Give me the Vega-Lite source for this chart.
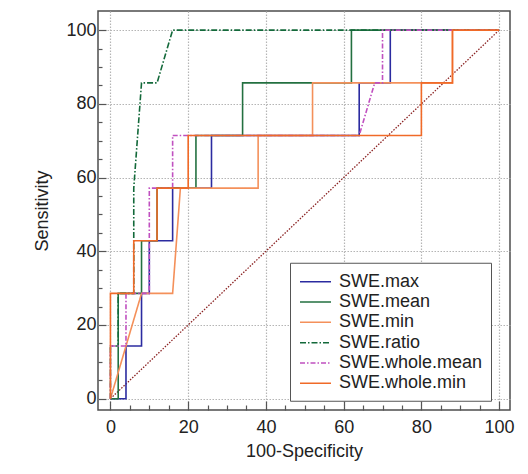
{
  "$schema": "https://vega.github.io/schema/vega-lite/v6.json",
  "width": 412,
  "height": 399,
  "autosize": {"type": "none"},
  "padding": {"left": 98, "top": 11, "right": 18, "bottom": 64},
  "background": "white",
  "datasets": {
    "roc": [
      {"s": "SWE.max", "i": 1, "x": 0, "y": 0},
      {"s": "SWE.max", "i": 2, "x": 4, "y": 0},
      {"s": "SWE.max", "i": 3, "x": 4, "y": 14.29},
      {"s": "SWE.max", "i": 4, "x": 8, "y": 14.29},
      {"s": "SWE.max", "i": 5, "x": 8, "y": 28.57},
      {"s": "SWE.max", "i": 6, "x": 10, "y": 28.57},
      {"s": "SWE.max", "i": 7, "x": 10, "y": 42.86},
      {"s": "SWE.max", "i": 8, "x": 16, "y": 42.86},
      {"s": "SWE.max", "i": 9, "x": 16, "y": 57.14},
      {"s": "SWE.max", "i": 10, "x": 26, "y": 57.14},
      {"s": "SWE.max", "i": 11, "x": 26, "y": 71.43},
      {"s": "SWE.max", "i": 12, "x": 64, "y": 71.43},
      {"s": "SWE.max", "i": 13, "x": 64, "y": 85.71},
      {"s": "SWE.max", "i": 14, "x": 72, "y": 85.71},
      {"s": "SWE.max", "i": 15, "x": 72, "y": 100},
      {"s": "SWE.max", "i": 16, "x": 100, "y": 100},

      {"s": "SWE.mean", "i": 1, "x": 0, "y": 0},
      {"s": "SWE.mean", "i": 2, "x": 2, "y": 0},
      {"s": "SWE.mean", "i": 3, "x": 2, "y": 28.57},
      {"s": "SWE.mean", "i": 4, "x": 8, "y": 28.57},
      {"s": "SWE.mean", "i": 5, "x": 8, "y": 42.86},
      {"s": "SWE.mean", "i": 6, "x": 12, "y": 42.86},
      {"s": "SWE.mean", "i": 7, "x": 12, "y": 57.14},
      {"s": "SWE.mean", "i": 8, "x": 22, "y": 57.14},
      {"s": "SWE.mean", "i": 9, "x": 22, "y": 71.43},
      {"s": "SWE.mean", "i": 10, "x": 34, "y": 71.43},
      {"s": "SWE.mean", "i": 11, "x": 34, "y": 85.71},
      {"s": "SWE.mean", "i": 12, "x": 62, "y": 85.71},
      {"s": "SWE.mean", "i": 13, "x": 62, "y": 100},
      {"s": "SWE.mean", "i": 14, "x": 100, "y": 100},

      {"s": "SWE.min", "i": 1, "x": 0, "y": 0},
      {"s": "SWE.min", "i": 2, "x": 8, "y": 28.57},
      {"s": "SWE.min", "i": 3, "x": 16, "y": 28.57},
      {"s": "SWE.min", "i": 4, "x": 18, "y": 57.14},
      {"s": "SWE.min", "i": 5, "x": 38, "y": 57.14},
      {"s": "SWE.min", "i": 6, "x": 38, "y": 71.43},
      {"s": "SWE.min", "i": 7, "x": 52, "y": 71.43},
      {"s": "SWE.min", "i": 8, "x": 52, "y": 85.71},
      {"s": "SWE.min", "i": 9, "x": 88, "y": 85.71},
      {"s": "SWE.min", "i": 10, "x": 88, "y": 100},
      {"s": "SWE.min", "i": 11, "x": 100, "y": 100},

      {"s": "SWE.ratio", "i": 1, "x": 0, "y": 0},
      {"s": "SWE.ratio", "i": 2, "x": 0, "y": 14.29},
      {"s": "SWE.ratio", "i": 3, "x": 2, "y": 14.29},
      {"s": "SWE.ratio", "i": 4, "x": 2, "y": 28.57},
      {"s": "SWE.ratio", "i": 5, "x": 6, "y": 28.57},
      {"s": "SWE.ratio", "i": 6, "x": 6, "y": 57.14},
      {"s": "SWE.ratio", "i": 7, "x": 8, "y": 85.71},
      {"s": "SWE.ratio", "i": 8, "x": 12, "y": 85.71},
      {"s": "SWE.ratio", "i": 9, "x": 16, "y": 100},
      {"s": "SWE.ratio", "i": 10, "x": 100, "y": 100},

      {"s": "SWE.whole.mean", "i": 1, "x": 0, "y": 0},
      {"s": "SWE.whole.mean", "i": 2, "x": 0, "y": 14.29},
      {"s": "SWE.whole.mean", "i": 3, "x": 4, "y": 14.29},
      {"s": "SWE.whole.mean", "i": 4, "x": 4, "y": 28.57},
      {"s": "SWE.whole.mean", "i": 5, "x": 10, "y": 28.57},
      {"s": "SWE.whole.mean", "i": 6, "x": 10, "y": 57.14},
      {"s": "SWE.whole.mean", "i": 7, "x": 16, "y": 57.14},
      {"s": "SWE.whole.mean", "i": 8, "x": 16, "y": 71.43},
      {"s": "SWE.whole.mean", "i": 9, "x": 64, "y": 71.43},
      {"s": "SWE.whole.mean", "i": 10, "x": 68, "y": 85.71},
      {"s": "SWE.whole.mean", "i": 11, "x": 70, "y": 85.71},
      {"s": "SWE.whole.mean", "i": 12, "x": 70, "y": 100},
      {"s": "SWE.whole.mean", "i": 13, "x": 100, "y": 100},

      {"s": "SWE.whole.min", "i": 1, "x": 0, "y": 0},
      {"s": "SWE.whole.min", "i": 2, "x": 0, "y": 28.57},
      {"s": "SWE.whole.min", "i": 3, "x": 6, "y": 28.57},
      {"s": "SWE.whole.min", "i": 4, "x": 6, "y": 42.86},
      {"s": "SWE.whole.min", "i": 5, "x": 12, "y": 42.86},
      {"s": "SWE.whole.min", "i": 6, "x": 12, "y": 57.14},
      {"s": "SWE.whole.min", "i": 7, "x": 20, "y": 57.14},
      {"s": "SWE.whole.min", "i": 8, "x": 20, "y": 71.43},
      {"s": "SWE.whole.min", "i": 9, "x": 80, "y": 71.43},
      {"s": "SWE.whole.min", "i": 10, "x": 80, "y": 85.71},
      {"s": "SWE.whole.min", "i": 11, "x": 88, "y": 85.71},
      {"s": "SWE.whole.min", "i": 12, "x": 88, "y": 100},
      {"s": "SWE.whole.min", "i": 13, "x": 100, "y": 100}
    ],
    "diag": [
      {"x": 0, "y": 0},
      {"x": 100, "y": 100}
    ]
  },
  "encoding": {
    "x": {
      "field": "x",
      "type": "quantitative",
      "scale": {"domain": [-3.2, 102.8], "nice": false, "zero": false},
      "axis": {
        "title": "100-Specificity",
        "values": [0, 5, 10, 15, 20, 25, 30, 35, 40, 45, 50, 55, 60, 65, 70, 75, 80, 85, 90, 95, 100],
        "labelExpr": "datum.value % 20 === 0 ? datum.label : ''",
        "tickSize": {"condition": {"test": "datum.value % 20 === 0", "value": -9}, "value": -5},
        "gridOpacity": {"condition": {"test": "datum.value % 20 === 0", "value": 1}, "value": 0},
        "labelPadding": 17,
        "titlePadding": 2
      }
    },
    "y": {
      "field": "y",
      "type": "quantitative",
      "scale": {"domain": [-3.07, 105.2], "nice": false, "zero": false},
      "axis": {
        "title": "Sensitivity",
        "values": [0, 5, 10, 15, 20, 25, 30, 35, 40, 45, 50, 55, 60, 65, 70, 75, 80, 85, 90, 95, 100],
        "labelExpr": "datum.value % 20 === 0 ? datum.label : ''",
        "tickSize": {"condition": {"test": "datum.value % 20 === 0", "value": -8}, "value": -4},
        "gridOpacity": {"condition": {"test": "datum.value % 20 === 0", "value": 1}, "value": 0},
        "labelPadding": 10,
        "titlePadding": 14
      }
    }
  },
  "layer": [
    {
      "data": {"name": "diag"},
      "mark": {"type": "line", "color": "#8B2323", "strokeWidth": 1.3, "strokeDash": [1.5, 1.5]}
    },
    {
      "data": {"name": "roc"},
      "mark": {"type": "line", "strokeWidth": 1.6},
      "encoding": {
        "order": {"field": "i", "type": "quantitative"},
        "color": {
          "field": "s",
          "type": "nominal",
          "scale": {
            "domain": ["SWE.max", "SWE.mean", "SWE.min", "SWE.ratio", "SWE.whole.mean", "SWE.whole.min"],
            "range": ["#2B2BA0", "#237040", "#F4905A", "#13693A", "#C050C0", "#F06A28"]
          },
          "legend": {
            "orient": "none",
            "legendX": 192,
            "legendY": 251.75,
            "title": null,
            "symbolType": "M-0.9,0H2.2",
            "symbolSize": 400,
            "symbolStrokeWidth": 1.5,
            "labelFontSize": 18,
            "labelFont": "Liberation Sans",
            "labelColor": "#222222",
            "labelOffset": 19,
            "rowPadding": 0.3,
            "padding": 8,
            "strokeColor": "#555555",
            "fillColor": "white"
          }
        },
        "strokeDash": {
          "field": "s",
          "type": "nominal",
          "scale": {
            "domain": ["SWE.max", "SWE.mean", "SWE.min", "SWE.ratio", "SWE.whole.mean", "SWE.whole.min"],
            "range": [[1, 0], [1, 0], [1, 0], [6, 2, 1.5, 2], [5, 2, 1.5, 2], [1, 0]]
          },
          "legend": {
            "orient": "none",
            "legendX": 192,
            "legendY": 251.75,
            "title": null,
            "symbolType": "M-0.9,0H2.2",
            "symbolSize": 400,
            "symbolStrokeWidth": 1.5,
            "labelFontSize": 18,
            "labelFont": "Liberation Sans",
            "labelColor": "#222222",
            "labelOffset": 19,
            "rowPadding": 0.3,
            "padding": 8,
            "strokeColor": "#555555",
            "fillColor": "white"
          }
        }
      }
    }
  ],
  "config": {
    "view": {"stroke": "#4d4d4d", "strokeWidth": 1.5},
    "axis": {
      "domain": false,
      "grid": true,
      "gridColor": "#b5b5b5",
      "gridDash": [1.5, 1.5],
      "gridWidth": 1.2,
      "tickColor": "#555555",
      "tickWidth": 1.2,
      "labelFont": "Liberation Sans",
      "labelFontSize": 18,
      "labelColor": "#222222",
      "labelFlush": false,
      "labelOverlap": false,
      "titleFont": "Liberation Sans",
      "titleFontSize": 18,
      "titleFontWeight": "normal",
      "titleColor": "#222222"
    }
  }
}
